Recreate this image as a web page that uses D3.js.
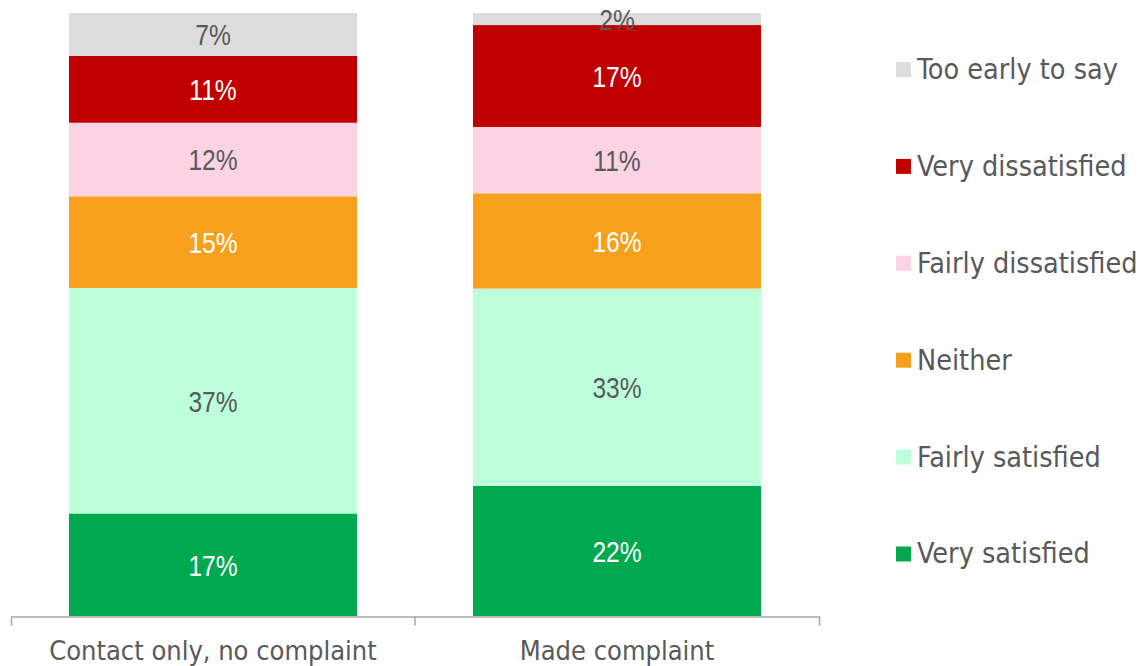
<!DOCTYPE html>
<html>
<head>
<meta charset="utf-8" />
<title>Satisfaction</title>
<script src="https://cdn.jsdelivr.net/npm/d3@7"></script>
<style>
  body { margin: 0; background: #fff; }
  svg text { fill: #595959; }
  .legend text { font-family: "DejaVu Sans Condensed", "DejaVu Sans", sans-serif; font-size: 28.5px; }
  .axis text { font-family: "DejaVu Sans Condensed", "DejaVu Sans", sans-serif; font-size: 27px; }
  .lbl { font-family: "Liberation Sans", Arial, sans-serif; font-size: 30px; }
</style>
</head>
<body>
<div id="chart"></div>
<script>
var width = 1146, height = 666;

// categories and series (bottom to top), values in %
var categories = ["Contact only, no complaint", "Made complaint"];
var keys = ["Very satisfied", "Fairly satisfied", "Neither", "Fairly dissatisfied", "Very dissatisfied", "Too early to say"];
var contactOnly = [17.0, 37.4, 15.2, 12.2, 11.1, 7.1];
var madeComplaint = [21.6, 32.7, 15.8, 11.0, 16.9, 2.0];
var colors = ["#00a84f", "#bdffdb", "#f6a01c", "#fbd3e3", "#c00000", "#dddddd"];
var darkText = ["Fairly satisfied", "Fairly dissatisfied", "Too early to say"];

var rows = [contactOnly, madeComplaint].map(function(vals, i) {
  var r = { cat: categories[i] };
  keys.forEach(function(k, j) { r[k] = vals[j]; });
  return r;
});

var svg = d3.select("#chart").append("svg")
  .attr("width", width)
  .attr("height", height);

var x = d3.scaleBand()
  .domain(categories)
  .range([11, 819])
  .paddingInner(0.287)
  .paddingOuter(0.1435);

var y = d3.scaleLinear().domain([0, 100]).range([616, 13]);

var color = d3.scaleOrdinal().domain(keys).range(colors);

var series = d3.stack().keys(keys)(rows);

var layer = svg.selectAll("g.layer")
  .data(series)
  .enter().append("g")
  .attr("class", "layer")
  .attr("fill", function(d) { return color(d.key); });

layer.selectAll("rect")
  .data(function(d) { return d; })
  .enter().append("rect")
  .attr("x", function(d) { return x(d.data.cat); })
  .attr("width", x.bandwidth())
  .attr("y", function(d) { return y(d[1]); })
  .attr("height", function(d) { return y(d[0]) - y(d[1]); });

// value labels (narrow face, squeezed horizontally)
layer.each(function(s) {
  d3.select(this).selectAll("text")
    .data(s)
    .enter().append("text")
    .attr("class", "lbl")
    .attr("text-anchor", "middle")
    .attr("transform", function(d) {
      var cx = x(d.data.cat) + x.bandwidth() / 2;
      var cy = (y(d[0]) + y(d[1])) / 2;
      return "translate(" + cx + "," + cy + ") scale(0.82,1)";
    })
    .attr("dy", "0.36em")
    .style("fill", darkText.indexOf(s.key) >= 0 ? "#595959" : "#ffffff")
    .text(function(d) { return Math.round(d[1] - d[0]) + "%"; });
});

// category axis
var axis = svg.append("g")
  .attr("class", "axis")
  .attr("transform", "translate(0,616.5)")
  .call(d3.axisBottom(x).tickSize(0).tickSizeOuter(9).tickPadding(24));

axis.select(".domain").attr("stroke", "#a6a6a6").attr("stroke-width", 1.5);
axis.selectAll("text").style("fill", "#595959");

// divider tick between the categories
var mid = x(categories[1]) - x.step() * x.paddingInner() / 2;
axis.append("line")
  .attr("x1", mid).attr("x2", mid)
  .attr("y1", 0).attr("y2", 9)
  .attr("stroke", "#a6a6a6").attr("stroke-width", 1.5);

// legend, top item = last key
var ly = d3.scalePoint().domain(keys.slice().reverse()).range([69.5, 554]);

var legend = svg.append("g").attr("class", "legend")
  .selectAll("g")
  .data(keys)
  .enter().append("g")
  .attr("transform", function(d) { return "translate(896," + ly(d) + ")"; });

legend.append("rect")
  .attr("x", 0).attr("y", -7.5)
  .attr("width", 15).attr("height", 15)
  .attr("fill", function(d) { return color(d); });

legend.append("text")
  .attr("x", 21)
  .attr("dy", "0.33em")
  .text(function(d) { return d; });
</script>
</body>
</html>
